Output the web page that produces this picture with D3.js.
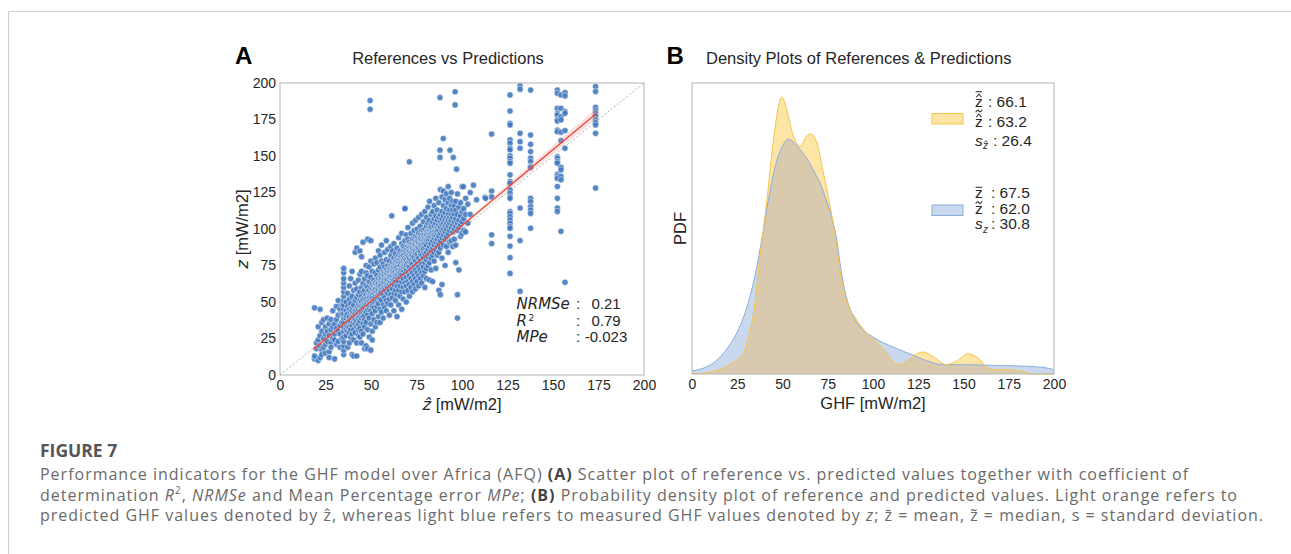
<!DOCTYPE html>
<html><head><meta charset="utf-8">
<script src="https://cdn.jsdelivr.net/npm/d3@7"></script>
<style>body{margin:0;background:#fff}svg{display:block}</style>
</head><body>
<svg id="c" width="1291" height="554"></svg>
<script>
// ---------------- DATA ----------------
const axisTicks = [0,25,50,75,100,125,150,175,200];
const panelTitles = ["References vs Predictions","Density Plots of References & Predictions"];

// scatter: dense cloud as columns [predicted ẑ, [reference z values]]
const cloudColumns = [
[19,[11,13,46]],[20,[18,22]],[21,[10,24,33]],[22,[12,45,20,27]],[23,[17,30,14,36]],
[24,[19,25,38]],[25,[21,15,28,33]],[26,[23,39,30]],[27,[27,16,35,12]],[28,[31,22,38,19]],
[29,[25,33,44]],[30,[11,28,35,24]],[31,[32,21,38,47]],[32,[23,30,51,41]],[33,[34,28,19,45]],
[34,[36,25,42,48]],
[35,[14,17,20,23,26,30,33,36,39,42,45,48,51,54,57,60,63,66,70,73]],
[36.4,[27,34,39,44,31,50,41]],[37.2,[19,30,36,47,42,33,56]],[38.1,[22,33,38,45,29,52,40,61]],
[38.8,[26,35,43,37,49,31,66]],[39.6,[14,28,41,34,46,39,54,44,71]],[40.5,[24,36,31,43,48,40,58,13]],
[41.3,[29,38,44,35,51,42,84,63]],[42.2,[13,22,33,41,46,37,53,44,87,59]],[43.1,[27,35,42,48,39,45,55,31,65]],
[43.9,[32,40,47,37,51,44,57,85,26,69]],[44.8,[22,30,39,45,50,42,47,54,60,71,81]],
[45.6,[35,43,48,52,40,46,57,63,28,91]],[46.5,[18,38,44,49,53,41,47,58,66,33]],
[47.3,[20,36,45,50,55,43,48,52,61,70,75]],[48.2,[18,41,47,53,57,45,50,60,68,93,31]],
[49.0,[26,39,46,51,55,48,53,58,64,74]],[49.9,[17,35,44,52,56,49,54,60,67,78,92]],
[50.7,[30,42,50,55,59,47,53,62,71,24]],[51.6,[38,46,53,58,50,56,61,65,76]],
[52.4,[33,44,51,57,61,54,59,63,70,80]],[53.3,[36,47,54,60,64,52,57,62,68,77]],
[54.1,[40,49,56,61,66,58,63,53,72,85]],[55.0,[36,45,52,58,63,67,56,61,65,74,82]],
[55.8,[43,51,59,64,69,57,62,66,78,89]],[56.7,[39,48,55,61,66,71,59,64,69,76]],
[57.5,[46,53,60,65,70,58,63,68,74,84]],[58.4,[44,51,57,63,68,72,61,66,70,79,92]],
[59.2,[49,56,62,67,71,60,65,69,75,86]],[60.1,[41,52,58,64,69,73,62,67,71,78]],
[60.9,[48,55,61,66,71,75,64,68,73,82,88]],[61.8,[53,59,65,70,74,63,68,72,77,85]],
[62.6,[44,56,62,68,72,76,65,70,74,80,90]],[63.5,[51,58,64,69,74,78,67,71,76,83]],
[64.3,[40,55,61,67,72,76,80,69,74,78,87]],[65.2,[48,58,64,70,75,79,68,72,77,82,94]],
[66.0,[54,61,67,72,77,81,70,75,79,85]],[66.9,[45,57,64,69,74,79,83,72,77,81,90,97]],
[67.7,[52,60,66,72,76,80,85,74,78,82,88]],[68.6,[57,63,69,74,78,83,87,76,80,85,92,114]],
[69.4,[50,61,67,72,77,81,86,75,79,84,96]],[70.3,[58,64,70,75,80,84,88,77,82,86,93,101]],
[71.1,[54,62,68,74,78,83,87,91,80,85,146]],[72.0,[60,66,72,77,82,86,90,79,84,88,97]],
[72.8,[57,64,70,76,80,85,89,93,82,87,104]],[73.7,[62,68,74,79,84,88,92,81,86,90,99]],
[74.5,[59,66,72,78,83,87,91,95,85,89,106]],[75.4,[64,70,76,81,86,90,94,83,88,92,100]],
[76.2,[61,68,74,80,85,89,93,97,87,91,108]],[77.1,[66,72,78,83,88,92,96,85,90,94,102]],
[77.9,[63,70,76,82,87,91,95,99,89,93,110]],[78.8,[68,74,80,85,90,94,98,87,92,96,105]],
[79.6,[71,77,83,88,92,96,100,90,94,112,60]],[80.5,[73,79,84,89,94,98,102,92,96,108,66]],
[81.3,[75,81,86,91,95,99,104,93,97,115]],[82.2,[77,83,88,93,97,101,95,99,106,119,65]],
[83.0,[72,80,85,90,95,99,103,97,101,110]],[83.9,[64,82,87,92,96,100,105,98,112]],
[84.7,[78,84,89,94,98,102,107,96,116]],[85.6,[73,86,91,96,100,104,98,109,121]],
[86.4,[82,88,93,97,101,106,99,113]],[87.3,[58,84,90,95,99,103,108,118]],
[88.1,[55,87,92,97,101,105,110,127]],[89.0,[62,80,94,99,103,107,112,122]],
[89.8,[89,96,100,104,109,116,126]],[90.7,[75,93,98,102,106,111,120]],
[91.5,[88,95,100,104,108,114,124]],[92.4,[84,97,102,106,110,118,129]],
[93.2,[91,99,104,108,113,121]],[94.1,[92,101,106,110,116,125]],[94.9,[88,98,103,108,113,119]],
[95.8,[93,100,105,110,116]],[96.6,[77,89,102,107,113,119]],[97.5,[39,55,99,104,110,124]],
[98.3,[72,101,106,115]],[99.2,[95,103,109,118]],[100.0,[97,105,112,129]],[101.0,[99,107,114]],
[102.0,[98,110,121]],[103.2,[104,117]],[104.5,[110,125]],[106.3,[130]],[108.0,[120]],[112.6,[121.7]]
];
// sparse / outlier columns [predicted ẑ, [reference z values]]
const outlierColumns = [
[49.5,[188,182]],[61.4,[109]],[68.7,[114]],[87.9,[190,154,149]],[89.7,[162]],[93.4,[154]],[95.2,[149]],
[96.2,[194,185]],[97,[141]],[100.7,[129]],[113,[121]],[116.3,[165,126,122,96,90]],
[126.4,[191.8,180.8,172.4,171.3,161,158.8,155.3,154.2,150.1,148.5,146.2,145.1,137.1,132.5,131.3,126.8,124.4,122.1,121,111.9,110.7,108.4,106.2,103.9,101.6,100.5,95,88.3,80.4,69.6]],
[131.9,[198,195.7,165.5,159.8,155.3,114.4,92,57.3]],
[137.7,[195.2,164.4,158,153,148.5,146.2,142.8,142.1,121,118.7,115.3,113,110.7,100.5]],
[152.4,[195.2,192.9,182.6,179.2,178,175,173.9,167.7,166.6,149.5,148.5,146.2,145.1,137.5,136,134.6,129.1,121,114.4,112]],
[154.4,[191.8,182.6,176.9,174.7,166.3,160.6,142.3,140.5,136,133.7,98.4]],
[156.6,[193.4,191.1,180.4,179.2,167.4,155.3,63.5]],
[173.4,[197.5,194.1,183.3,181,179.2,177.4,174.7,172.9,171.3,165.5,128]]
];
// regression fit and its confidence band
const regIntercept = -1.4;
const regSlope = 1.038;
const regRange = [18.5, 174];
const ciPred = [18.5,40,60,80,100,120,140,160,174];
const ciHalf = [1.8,1.0,0.7,0.8,1.2,1.9,2.6,3.3,3.8];
// statistics text
const statLabels = ["NRMSe","R","MPe"];
const statValues = ["0.21","0.79","-0.023"];

// densities (B)
const refDensX = [0,5,10,15,20,25,30,35,38.5,42,46,50,53,56,60,64,67,71,74,77,80,82,85,89,93,100,111,122,130,139,148,165,184,194,200];
const refDensY = [0.00022,0.00036,0.00065,0.00115,0.00195,0.00303,0.00469,0.00722,0.00967,0.01241,0.01501,0.01645,0.01696,0.01674,0.01616,0.01544,0.01472,0.01371,0.01263,0.0114,0.00967,0.00779,0.0057,0.00419,0.00339,0.00267,0.00195,0.00137,0.00094,0.00067,0.00067,0.00063,0.00056,0.00048,0.00031];
const predDensX = [0,5,10,15,19,24,28.5,31,34,37.6,41,45,47.8,49.6,52.4,56,59.7,63.4,65.7,69,72.6,76.3,79,81.7,85.3,91,96.5,103.8,111,114,118.6,123,127.7,133,140.6,146,152.6,158,163.6,168,175.6,184.7,188,200];
const predDensY = [0.00002,0.00004,0.00014,0.00029,0.00056,0.00094,0.00152,0.00253,0.0044,0.00851,0.01212,0.01689,0.01934,0.01999,0.01905,0.01717,0.01645,0.01717,0.01732,0.01667,0.0145,0.01212,0.0101,0.0075,0.00534,0.0039,0.00296,0.00209,0.00094,0.00067,0.00092,0.00137,0.00159,0.00128,0.00067,0.00092,0.00146,0.00115,0.00043,0.00031,0.00031,0.00012,0,0];
const predStatValues = ["66.1","63.2","26.4"];
const refStatValues = ["67.5","62.0","30.8"];

// caption
const captionTitle = "FIGURE 7";
const captionLines = [
 [{t:"Performance indicators for the GHF model over Africa (AFQ) "},{t:"(A)",b:1},{t:" Scatter plot of reference vs. predicted values together with coefficient of"}],
 [{t:"determination "},{t:"R",i:1},{t:"2",sup:1},{t:", "},{t:"NRMSe",i:1},{t:" and Mean Percentage error "},{t:"MPe",i:1},{t:"; "},{t:"(B)",b:1},{t:" Probability density plot of reference and predicted values. Light orange refers to"}],
 [{t:"predicted GHF values denoted by ẑ, whereas light blue refers to measured GHF values denoted by "},{t:"z",i:1},{t:"; z\u0304 = mean, z\u0303 = median, s = standard deviation."}]
];

// ---------------- DRAW ----------------
const svg = d3.select("#c");
const SANS = "'Liberation Sans', Arial, sans-serif";
const MATH = "'DejaVu Sans', sans-serif";
const DARK = "#262626";

svg.append("line").attr("x1",8.5).attr("y1",11.5).attr("x2",1291).attr("y2",11.5).attr("stroke","#cfcfcf");
svg.append("line").attr("x1",8.5).attr("y1",11.5).attr("x2",8.5).attr("y2",554).attr("stroke","#cfcfcf");

// ---- Panel A ----
const xA = d3.scaleLinear().domain([0,200]).range([280,644]);
const yA = d3.scaleLinear().domain([0,200]).range([375,83]);
const gA = svg.append("g");

gA.append("line").attr("x1",xA(0)).attr("y1",yA(0)).attr("x2",xA(200)).attr("y2",yA(200))
  .attr("stroke","#9a9a9a").attr("stroke-width",0.8).attr("stroke-dasharray","2,2");

const points = [];
cloudColumns.concat(outlierColumns).forEach(([p,zs]) => zs.forEach(z => points.push([p,z])));
gA.append("g").selectAll("circle").data(points).join("circle")
  .attr("cx",d=>xA(d[0])).attr("cy",d=>yA(d[1])).attr("r",3.1)
  .attr("fill","#3f76bd").attr("fill-opacity",0.88)
  .attr("stroke","#ffffff").attr("stroke-width",0.5);

const ci = ciPred.map((p,i)=>({x:p,h:ciHalf[i]}));
gA.append("path").datum(ci)
  .attr("d",d3.area().curve(d3.curveMonotoneX).x(d=>xA(d.x))
     .y0(d=>yA(regIntercept+regSlope*d.x-d.h)).y1(d=>yA(regIntercept+regSlope*d.x+d.h)))
  .attr("fill","#f08a80").attr("fill-opacity",0.25);
gA.append("path").datum(regRange)
  .attr("d",d3.line().x(d=>xA(d)).y(d=>yA(regIntercept+regSlope*d)))
  .attr("stroke","#e8473c").attr("stroke-width",1.3).attr("fill","none");

gA.append("rect").attr("x",xA(0)).attr("y",yA(200)).attr("width",xA(200)-xA(0)).attr("height",yA(0)-yA(200))
  .attr("fill","none").attr("stroke","#b3b3b3").attr("stroke-width",1);

function styleAxis(g){
  g.select(".domain").remove();
  g.selectAll("text").attr("font-family",SANS).attr("font-size",14).attr("fill",DARK);
}
gA.append("g").attr("transform",`translate(0,${yA(0)})`)
  .call(d3.axisBottom(xA).tickValues(axisTicks).tickSize(0).tickPadding(5)).call(styleAxis);
gA.append("g").attr("transform",`translate(${xA(0)},0)`)
  .call(d3.axisLeft(yA).tickValues(axisTicks).tickSize(0).tickPadding(4)).call(styleAxis);

svg.append("text").attr("x",235).attr("y",64).text("A")
  .attr("font-family",SANS).attr("font-weight","bold").attr("font-size",24).attr("fill","#000");
svg.append("text").attr("x",448).attr("y",64).attr("text-anchor","middle").text(panelTitles[0])
  .attr("font-family",SANS).attr("font-size",16.5).attr("fill",DARK);

// axis labels A
const xlA = svg.append("text").attr("x",(xA(0)+xA(200))/2).attr("y",410).attr("text-anchor","middle")
  .attr("font-family",SANS).attr("font-size",16.5).attr("fill",DARK);
xlA.append("tspan").attr("font-family",MATH).attr("font-style","italic").text("ẑ");
xlA.append("tspan").text(" [mW/m2]");
const ylA = svg.append("text").attr("transform",`translate(248,${(yA(0)+yA(200))/2}) rotate(-90)`).attr("text-anchor","middle")
  .attr("font-family",SANS).attr("font-size",16.5).attr("fill",DARK);
ylA.append("tspan").attr("font-family",MATH).attr("font-style","italic").text("z");
ylA.append("tspan").text(" [mW/m2]");

// stats
const statBase = [309,325.5,341.5];
statLabels.forEach((s,i)=>{
  svg.append("text").attr("x",516.5).attr("y",statBase[i]).attr("font-family",MATH)
    .attr("font-style","italic").attr("font-size",15).attr("fill",DARK).text(s);
  if(s==="R"){
    svg.append("text").attr("x",528.5).attr("y",statBase[i]-4.5).attr("font-family",MATH)
      .attr("font-size",9).attr("fill",DARK).text("2");
  }
  svg.append("text").attr("x",578).attr("y",statBase[i]).attr("text-anchor","middle").attr("font-family",SANS)
    .attr("font-size",15).attr("fill",DARK).text(":");
  svg.append("text").attr("x",606).attr("y",statBase[i]).attr("text-anchor","middle").attr("font-family",SANS)
    .attr("font-size",15).attr("fill",DARK).text(statValues[i]);
});

// ---- Panel B ----
const xB = d3.scaleLinear().domain([0,200]).range([692,1054]);
const yB = d3.scaleLinear().domain([0,0.021]).range([374,83]);
const gB = svg.append("g");
const refD = refDensX.map((x,i)=>[x,refDensY[i]]);
const predD = predDensX.map((x,i)=>[x,predDensY[i]]);
const area = d3.area().curve(d3.curveMonotoneX).x(d=>xB(d[0])).y0(yB(0)).y1(d=>yB(d[1]));
const line = d3.line().curve(d3.curveMonotoneX).x(d=>xB(d[0])).y(d=>yB(d[1]));
const BLUE_F="#c9d8ec", BLUE_S="#8aaedc", OR_F="#fde5a6", OR_S="#f5c350", MIX="#d9c9ae";
gB.append("clipPath").attr("id","refclip").append("path").attr("d",area(refD));
gB.append("path").attr("d",area(refD)).attr("fill",BLUE_F);
gB.append("path").attr("d",area(predD)).attr("fill",OR_F);
gB.append("path").attr("d",area(predD)).attr("fill",MIX).attr("clip-path","url(#refclip)");
gB.append("path").attr("d",line(refD)).attr("fill","none").attr("stroke",BLUE_S).attr("stroke-width",1);
gB.append("path").attr("d",line(predD)).attr("fill","none").attr("stroke",OR_S).attr("stroke-width",1);
gB.append("rect").attr("x",xB(0)).attr("y",yB(0.021)).attr("width",xB(200)-xB(0)).attr("height",yB(0)-yB(0.021))
  .attr("fill","none").attr("stroke","#b3b3b3").attr("stroke-width",1);
gB.append("g").attr("transform",`translate(0,${yB(0)})`)
  .call(d3.axisBottom(xB).tickValues(axisTicks).tickSize(0).tickPadding(5)).call(styleAxis);

svg.append("text").attr("x",666.5).attr("y",64).text("B")
  .attr("font-family",SANS).attr("font-weight","bold").attr("font-size",24).attr("fill","#000");
svg.append("text").attr("x",706).attr("y",64).text(panelTitles[1])
  .attr("font-family",SANS).attr("font-size",16.5).attr("fill",DARK);
svg.append("text").attr("x",(xB(0)+xB(200))/2).attr("y",409).attr("text-anchor","middle").text("GHF [mW/m2]")
  .attr("font-family",SANS).attr("font-size",16.5).attr("fill",DARK);
svg.append("text").attr("transform",`translate(686,${(yB(0)+yB(0.021))/2}) rotate(-90)`).attr("text-anchor","middle")
  .text("PDF").attr("font-family",SANS).attr("font-size",16.5).attr("fill",DARK);

// legend
function zMarked(x, base, marks, size){
  const w = size*0.5, top = base - size*0.53;
  svg.append("text").attr("x",x).attr("y",base).attr("font-family",SANS).attr("font-size",size).attr("fill",DARK).text("z");
  let y = top - 1.5;
  marks.forEach(m=>{
    if(m==="hat"){
      svg.append("path").attr("d",`M${x+w*0.15},${y} L${x+w*0.5},${y-size*0.2} L${x+w*0.85},${y}`)
        .attr("fill","none").attr("stroke",DARK).attr("stroke-width",size*0.065);
      y -= size*0.2+2;
    } else if(m==="bar"){
      svg.append("line").attr("x1",x+w*0.08).attr("x2",x+w*0.92).attr("y1",y-0.5).attr("y2",y-0.5)
        .attr("stroke",DARK).attr("stroke-width",size*0.065);
      y -= 2.5;
    } else if(m==="tilde"){
      const h = size*0.08;
      svg.append("path").attr("d",`M${x+w*0.08},${y} C${x+w*0.3},${y-2*h} ${x+w*0.45},${y-2*h} ${x+w*0.5},${y-h} S${x+w*0.75},${y} ${x+w*0.92},${y-2*h}`)
        .attr("fill","none").attr("stroke",DARK).attr("stroke-width",size*0.065);
      y -= 2*h+1.5;
    }
  });
}
function sLabel(x, base, hat){
  svg.append("text").attr("x",x).attr("y",base).attr("font-family",SANS).attr("font-style","italic")
    .attr("font-size",15.5).attr("fill",DARK).text("s");
  const sx = x+8, sb = base+3.5, size=10;
  svg.append("text").attr("x",sx).attr("y",sb).attr("font-family",SANS).attr("font-style","italic")
    .attr("font-size",size).attr("fill",DARK).text("z");
  if(hat){
    const w=size*0.5, y=sb-size*0.53-1;
    svg.append("path").attr("d",`M${sx+w*0.2},${y} L${sx+w*0.55},${y-2} L${sx+w*0.9},${y}`)
      .attr("fill","none").attr("stroke",DARK).attr("stroke-width",0.8);
  }
}
function valText(x, base, s){
  svg.append("text").attr("x",x).attr("y",base).attr("font-family",SANS).attr("font-size",15.5).attr("fill",DARK).text(s);
}
// orange (predicted)
const oBase=[107,127,145.5];
svg.append("rect").attr("x",932).attr("y",113.5).attr("width",31).attr("height",10.5).attr("fill",OR_F).attr("stroke",OR_S);
zMarked(975,oBase[0],["hat","bar"],15.5); valText(988,oBase[0],": "+predStatValues[0]);
zMarked(975,oBase[1],["hat","tilde"],15.5); valText(988,oBase[1],": "+predStatValues[1]);
sLabel(975,oBase[2],true); valText(993,oBase[2],": "+predStatValues[2]);
// blue (reference)
const bBase=[197.5,213.5,229];
svg.append("rect").attr("x",932).attr("y",205).attr("width",31).attr("height",10.5).attr("fill",BLUE_F).attr("stroke",BLUE_S);
zMarked(975,bBase[0],["bar"],15.5); valText(991,bBase[0],": "+refStatValues[0]);
zMarked(975,bBase[1],["tilde"],15.5); valText(991,bBase[1],": "+refStatValues[1]);
sLabel(975,bBase[2],false); valText(991,bBase[2],": "+refStatValues[2]);

// ---- caption ----
const CAP = "'Open Sans', 'Noto Sans', sans-serif";
svg.append("text").attr("x",40).attr("y",457).text(captionTitle)
  .attr("font-family",CAP).attr("font-weight","bold").attr("font-size",17.5).attr("fill","#555");
const capBase=[480,500.5,521];
const CAP_FS = 16;
const capNodes = captionLines.map((segs,i)=>{
  const t = svg.append("text").attr("x",40).attr("y",capBase[i]).attr("font-family",CAP)
    .attr("font-size",CAP_FS).attr("fill","#6a6a6a");
  segs.forEach(s=>{
    const ts = t.append("tspan").text(s.t);
    if(s.b) ts.attr("font-weight","bold").attr("fill","#444");
    if(s.i) ts.attr("font-style","italic");
    if(s.sup) ts.attr("font-size",10).attr("baseline-shift","super");
  });
  return t;
});
// letter-spacing so the longest line spans the same width as in the reference
const n3 = capNodes[2].node();
const L = n3.getComputedTextLength();
const ls = (1226 - L)/n3.getNumberOfChars();
capNodes.forEach(t=>t.attr("letter-spacing",ls));
</script>
</body></html>
